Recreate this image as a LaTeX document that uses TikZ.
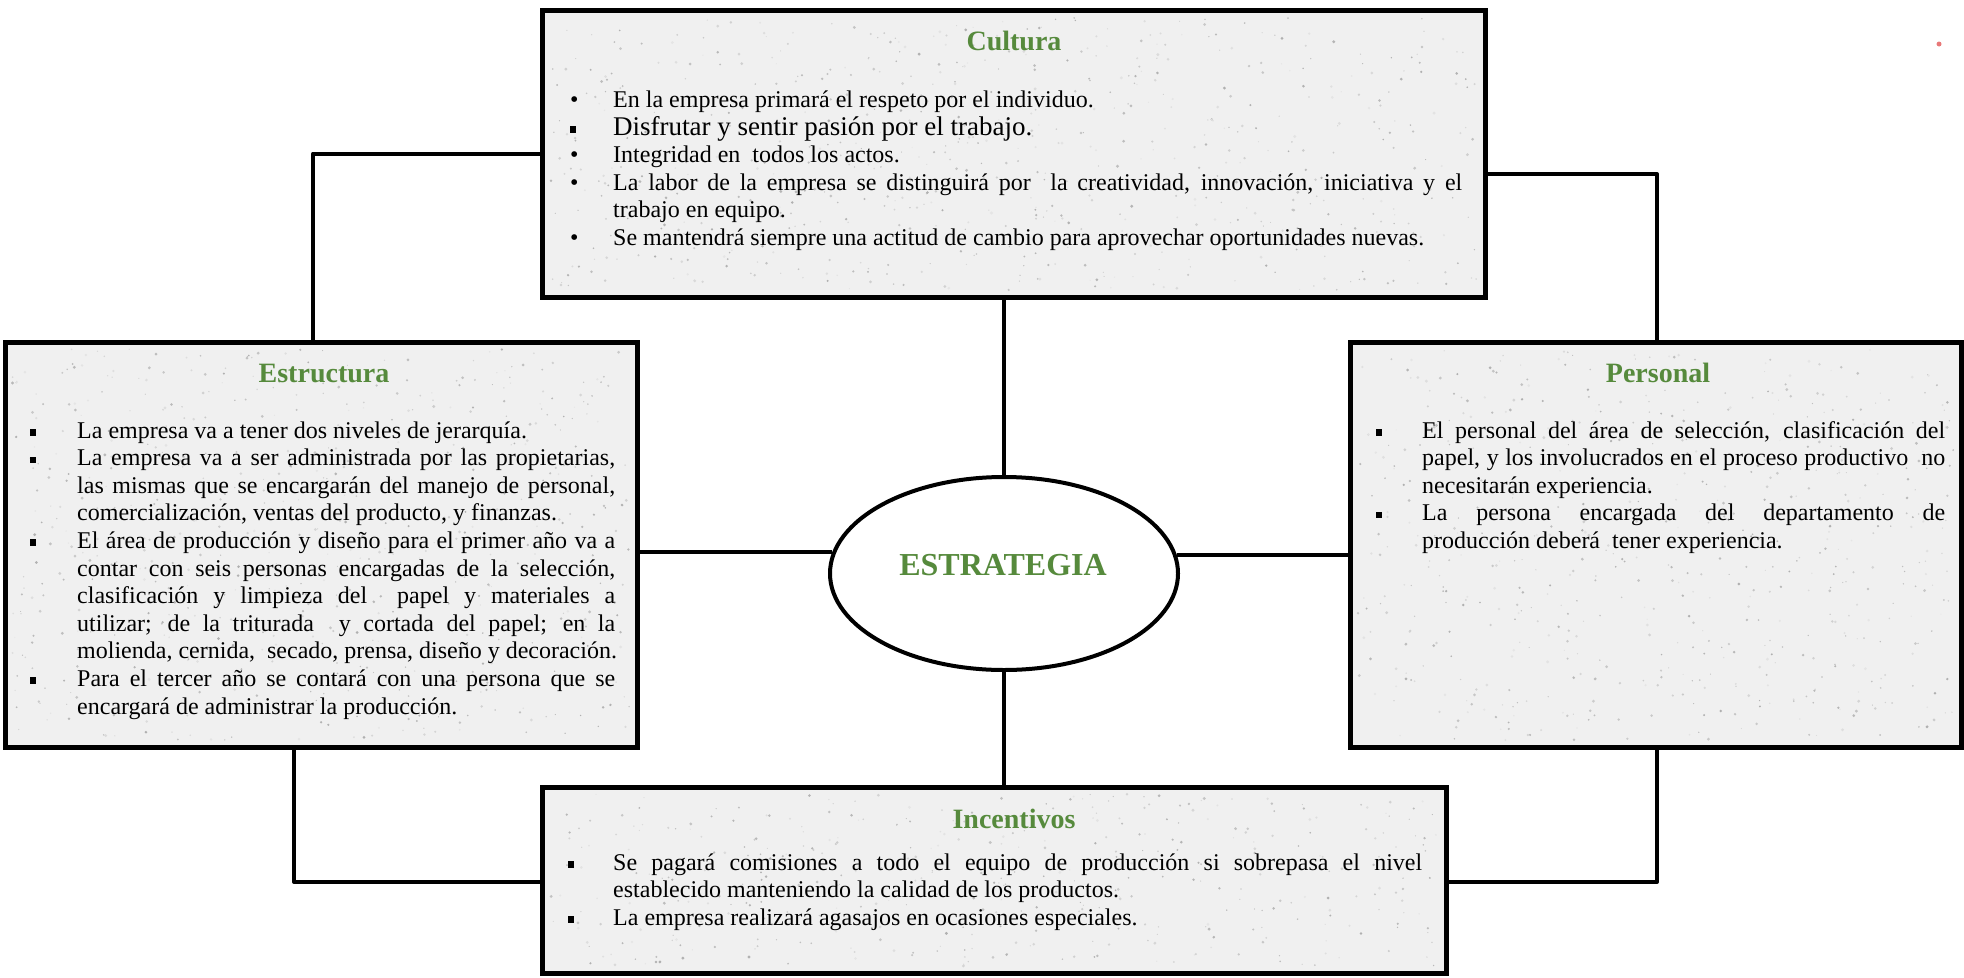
\documentclass[tikz,border=0pt]{standalone}
\usepackage{fontspec}
\setmainfont{Liberation Serif}
\usetikzlibrary{shapes.geometric,calc}
\definecolor{tgreen}{RGB}{86,138,60}
\definecolor{boxgray}{RGB}{240,240,240}
\definecolor{speck}{RGB}{232,120,120}
\newlength{\bw}
\newcommand{\sqb}{\rule[2.5pt]{5.5pt}{6.5pt}}
\newcommand{\rdb}{\textbullet}
\newcommand{\fj}[2]{\hbox to\hsize{\hbox to\bw{#1\hss}#2}}
\newcommand{\fn}[2]{\hbox{\hbox to\bw{#1\hss}#2}}
\newcommand{\cj}[1]{\hbox to\hsize{\hskip\bw\relax #1}}
\newcommand{\cn}[1]{\hbox{\hskip\bw\relax #1}}
\newcommand{\bodybox}[3]{\vtop{\hsize=#1\relax\bw=#2\relax\baselineskip=27.6pt\relax\lineskiplimit=-1000pt\relax\lineskip=0pt\relax #3}}
\newcommand{\speckle}[5]{%
  \foreach \i in {1,...,#5}{%
    \pgfmathsetmacro{\sx}{#1+rnd*(#3-#1)}%
    \pgfmathsetmacro{\sy}{#2+rnd*(#4-#2)}%
    \pgfmathsetmacro{\sr}{0.5+rnd*1.1}%
    \pgfmathtruncatemacro{\sg}{10+rnd*22}%
    \fill[black!\sg] (\sx,\sy) circle (\sr pt);
  }}
\begin{document}
\begin{tikzpicture}[x=1pt,y=-1pt,
  boxst/.style={draw, line width=5pt, fill=boxgray, rectangle, inner sep=0pt},
  ttl/.style={font=\fontsize{28}{32}\selectfont\bfseries, text=tgreen, inner sep=0pt, anchor=base},
  bodyt/.style={font=\fontsize{24}{27.6}\selectfont, inner sep=0pt, anchor=base west, align=left},
  conn/.style={line width=4pt, line join=round}]
\useasboundingbox (0,0) rectangle (1964,977);
\pgfmathsetseed{7}

% boxes
\node[boxst, minimum width=943pt, minimum height=287pt] (cult) at (1013.5,153.5) {};
\node[boxst, minimum width=632pt, minimum height=405pt] (estr) at (321,544.5) {};
\node[boxst, minimum width=611pt, minimum height=405pt] (pers) at (1655.5,544.5) {};
\node[boxst, minimum width=904pt, minimum height=186pt] (inc) at (994,880) {};

% paper texture
\speckle{549}{17}{1478}{290}{700}
\speckle{12}{349}{630}{740}{650}
\speckle{1357}{349}{1954}{740}{630}
\speckle{549}{794}{1439}{966}{430}

\node[ellipse, draw, line width=4pt, fill=white, minimum width=348pt, minimum height=193pt, inner sep=0pt] (est) at (1004,573.5) {};

% corner coordinates
\coordinate (tl) at (313,153.5);
\coordinate (tr) at (1657,174);
\coordinate (bl) at (294,882);
\coordinate (br) at (1657,882);

% connectors
\draw[conn] (est.north) -- (est.north |- cult.south);
\draw[conn] (est.south) -- (est.south |- inc.north);
\draw[conn] (est.173.5) -- (est.173.5 -| estr.east);
\draw[conn] (est.6.5) -- (est.6.5 -| pers.west);
\draw[conn] (cult.west) -- (tl) -- (tl |- estr.north);
\draw[conn] (cult.east |- tr) -- (tr) -- (tr |- pers.north);
\draw[conn] (bl |- estr.south) -- (bl) -- (bl -| inc.west);
\draw[conn] (br |- pers.south) -- (br) -- (br -| inc.east);

% titles
\node[ttl] (cultt) at (1014,50) {Cultura};
\node[ttl] (estrt) at (324,382) {Estructura};
\node[ttl] (perst) at (1658,382) {Personal};
\node[ttl] (inct) at (1014,828) {Incentivos};
\node[font=\fontsize{32}{36}\selectfont\bfseries, text=tgreen, inner sep=0pt] (estt) at (1003,565) {ESTRATEGIA};

% bodies
\node[bodyt] (cultb) at (570,107.5) {\bodybox{892pt}{43pt}{%
 \fn{\rdb}{En la empresa primará el respeto por el individuo.}
 \fn{\sqb}{\fontsize{27}{30}\selectfont Disfrutar y sentir pasión por el trabajo.}
 \fn{\rdb}{Integridad en\ \ todos los actos.}
 \fj{\rdb}{La labor de la empresa se distinguirá por\ \ la creatividad, innovación, iniciativa y el}
 \cn{trabajo en equipo.}
 \fn{\rdb}{Se mantendrá siempre una actitud de cambio para aprovechar oportunidades nuevas.}
}};

\node[bodyt] (estrb) at (30,438) {\bodybox{585pt}{47pt}{%
 \fn{\sqb}{La empresa va a tener dos niveles de jerarquía.}
 \fj{\sqb}{La empresa va a ser administrada por las propietarias,}
 \cj{las mismas que se encargarán del manejo de personal,}
 \cn{comercialización, ventas del producto, y finanzas.}
 \fj{\sqb}{El área de producción y diseño para el primer año va a}
 \cj{contar con seis personas encargadas de la selección,}
 \cj{clasificación y limpieza del\ \ papel y materiales a}
 \cj{utilizar; de la triturada\ \ y cortada del papel; en la}
 \cn{molienda, cernida,\ \ secado, prensa, diseño y decoración.}
 \fj{\sqb}{Para el tercer año se contará con una persona que se}
 \cn{encargará de administrar la producción.}
}};

\node[bodyt] (persb) at (1376,438) {\bodybox{569pt}{46pt}{%
 \fj{\sqb}{El personal del área de selección, clasificación del}
 \cj{papel, y los involucrados en el proceso productivo\ \ no}
 \cn{necesitarán experiencia.}
 \fj{\sqb}{La persona encargada del departamento de}
 \cn{producción deberá\ \ tener experiencia.}
}};

\node[bodyt] (incb) at (568,870) {\bodybox{854pt}{45pt}{%
 \fj{\sqb}{Se pagará comisiones a todo el equipo de producción si sobrepasa el nivel}
 \cn{establecido manteniendo la calidad de los productos.}
 \fn{\sqb}{La empresa realizará agasajos en ocasiones especiales.}
}};

% small red speck at top right
\fill[speck] (1939,44) circle (2.5pt);
\end{tikzpicture}
\end{document}
